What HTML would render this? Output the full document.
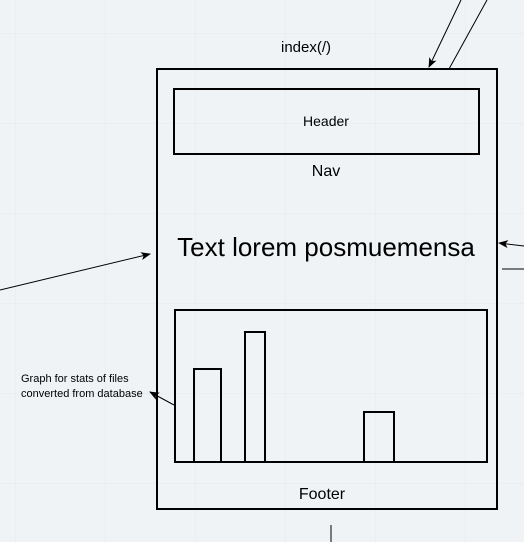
<!DOCTYPE html>
<html><head><style>
html,body{margin:0;padding:0;background:#eff3f6;}
svg{display:block;font-family:"Liberation Sans",sans-serif;}
</style></head><body>
<svg width="524" height="542" viewBox="0 0 524 542" xmlns="http://www.w3.org/2000/svg">
<defs>
<pattern id="g" width="90" height="90" patternUnits="userSpaceOnUse" x="15" y="33">
<path d="M0 0H90M0 0V90" stroke="#e3e8ed" stroke-width="1" fill="none"/>
</pattern>
<marker id="a" markerWidth="10" markerHeight="8" refX="9" refY="4" orient="auto" markerUnits="userSpaceOnUse">
<path d="M0 0L10 4L0 8L2.5 4Z" fill="#000"/>
</marker>
</defs>
<rect width="524" height="542" fill="url(#g)"/>
<text x="306" y="52" font-size="15" text-anchor="middle">index(/)</text>
<rect x="157" y="69" width="340" height="440" fill="none" stroke="#000" stroke-width="2"/>
<rect x="174" y="89" width="305" height="65" fill="none" stroke="#000" stroke-width="2"/>
<text x="326" y="126" font-size="14" text-anchor="middle">Header</text>
<text x="326" y="176" font-size="16" text-anchor="middle">Nav</text>
<text x="326" y="256" font-size="26" text-anchor="middle">Text lorem posmuemensa</text>
<rect x="175" y="310" width="312" height="152" fill="none" stroke="#000" stroke-width="2"/>
<rect x="194" y="369" width="27" height="93" fill="none" stroke="#000" stroke-width="2"/>
<rect x="245" y="332" width="20" height="130" fill="none" stroke="#000" stroke-width="2"/>
<rect x="364" y="412" width="30" height="50" fill="none" stroke="#000" stroke-width="2"/>
<text x="322" y="499" font-size="16" text-anchor="middle">Footer</text>
<text x="21" y="382" font-size="11">Graph for stats of files</text>
<text x="21" y="397" font-size="11">converted from database</text>
<line x1="461" y1="0" x2="429" y2="67" stroke="#000" marker-end="url(#a)"/>
<line x1="487" y1="0" x2="449" y2="69" stroke="#000"/>
<line x1="0" y1="290" x2="150" y2="254" stroke="#000" marker-end="url(#a)"/>
<line x1="524" y1="246" x2="499" y2="243" stroke="#000" marker-end="url(#a)"/>
<line x1="502" y1="269" x2="524" y2="269" stroke="#000"/>
<line x1="174" y1="405" x2="150" y2="392" stroke="#000" marker-end="url(#a)"/>
<line x1="331" y1="525" x2="331" y2="542" stroke="#000"/>
</svg>
</body></html>
